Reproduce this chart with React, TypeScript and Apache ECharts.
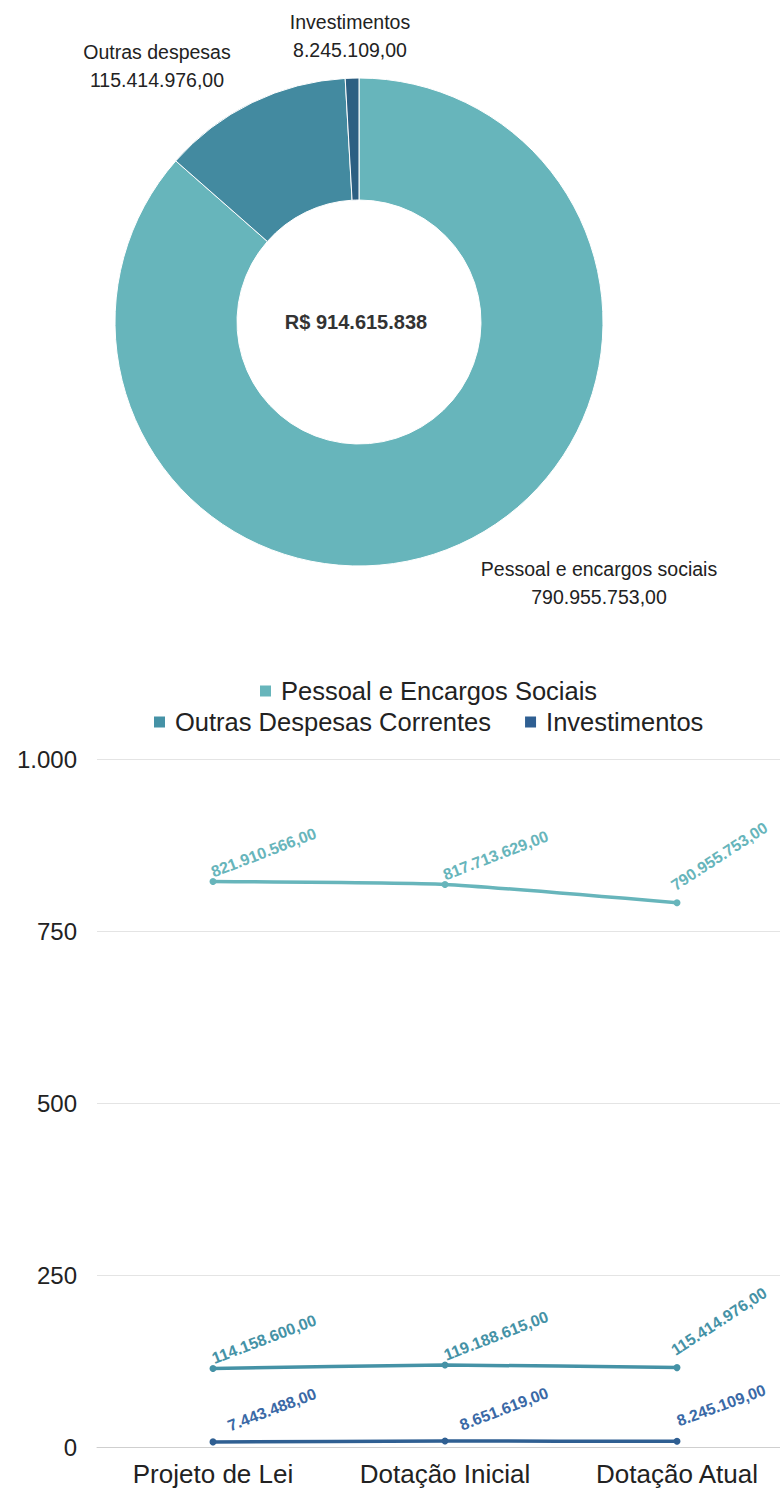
import React, { useEffect, useRef } from "react";
import * as echarts from "echarts";

const categories = ["Projeto de Lei", "Dotação Inicial", "Dotação Atual"];
const seriesNames = ["Pessoal e Encargos Sociais", "Outras Despesas Correntes", "Investimentos"];
const pessoal = [821910566, 817713629, 790955753];
const outras = [114158600, 119188615, 115414976];
const investimentos = [7443488, 8651619, 8245109];

const pieNames = ["Pessoal e encargos sociais", "Outras despesas", "Investimentos"];
const pieValues = [790955753, 115414976, 8245109];

const yMin = 0;
const yMax = 1000000000;
const yInterval = 250000000;

const pieColors = ["#67b5bb", "#438aa0", "#2c5f82"];
const lineColors = ["#67b5bb", "#4592a6", "#2f5f92"];
const labelColors = ["#67b5bb", "#4592a6", "#3a69a6"];
// label anchor positions for pie labels (layout only)
const pieLabelPos = [
  [599, 583],
  [157, 66],
  [350, 36],
];

const FONT = "'Liberation Sans', Arial, sans-serif";

function fmtBR(v: number, decimals: number): string {
  const fixed = v.toFixed(decimals);
  const parts = fixed.split(".");
  const intF = parts[0].replace(/\B(?=(\d{3})+(?!\d))/g, ".");
  return parts[1] ? intF + "," + parts[1] : intF;
}

function buildLineData(values: number[]) {
  return values.map((v, i) => {
    const txt = fmtBR(v, 2);
    const last = i === values.length - 1;
    if (last) {
      const long = txt.length > 12;
      return {
        value: v,
        label: {
          position: long ? [3.5, -6] : [6.5, -9],
          align: "left",
          verticalAlign: "bottom",
          rotate: long ? 33 : 20,
        },
      };
    }
    return { value: v };
  });
}

export default function App() {
  const ref = useRef<HTMLDivElement>(null);

  useEffect(() => {
    if (!ref.current) return;
    const chart = echarts.init(ref.current, undefined, { renderer: "svg" });
    const total = pieValues.reduce((a, b) => a + b, 0);
    const allSeries = [pessoal, outras, investimentos];

    const legendText = { fontSize: 25.5, color: "#222", fontFamily: FONT, padding: [0, 0, 0, 5] };

    const option: any = {
      animation: false,
      textStyle: { fontFamily: FONT },
      legend: [
        {
          data: [seriesNames[0]],
          left: 255,
          top: 673,
          icon: "rect",
          itemWidth: 11,
          itemHeight: 11,
          textStyle: legendText,
        },
        {
          data: [seriesNames[1], seriesNames[2]],
          left: 149,
          top: 704,
          icon: "rect",
          itemWidth: 11,
          itemHeight: 11,
          itemGap: 34,
          textStyle: legendText,
        },
      ],
      graphic: [
        {
          type: "text",
          x: 356,
          y: 322,
          style: {
            text: "R$ " + fmtBR(total, 0),
            fontSize: 20,
            fontWeight: "bold",
            fill: "#333",
            fontFamily: FONT,
            align: "center",
            verticalAlign: "middle",
          },
        },
      ],
      grid: { left: 97, right: 7, top: 759, bottom: 43 },
      xAxis: {
        type: "category",
        data: categories,
        boundaryGap: true,
        axisLine: { show: true, lineStyle: { color: "#cfcfcf", width: 1 } },
        axisTick: { show: false },
        axisLabel: { fontSize: 26, color: "#222", margin: 14, fontFamily: FONT },
        splitLine: { show: false },
      },
      yAxis: {
        type: "value",
        min: yMin,
        max: yMax,
        interval: yInterval,
        axisLine: { show: false },
        axisTick: { show: false },
        axisLabel: {
          fontSize: 24,
          color: "#222",
          margin: 20,
          fontFamily: FONT,
          formatter: (v: number) => fmtBR(v / 1000000, 0),
        },
        splitLine: { show: true, lineStyle: { color: "#e4e4e4", width: 1 } },
      },
      series: [
        {
          type: "pie",
          name: "Dotação Atual",
          center: [359, 322],
          radius: [122, 244],
          startAngle: 90,
          clockwise: true,
          avoidLabelOverlap: false,
          itemStyle: { borderColor: "#fff", borderWidth: 1 },
          label: {
            show: true,
            position: "outside",
            formatter: (p: any) => p.name + "\n" + fmtBR(p.value, 2),
            fontSize: 19.5,
            lineHeight: 28,
            color: "#222",
            fontFamily: FONT,
            align: "center",
          },
          labelLine: { show: false },
          labelLayout: (p: any) => ({
            x: pieLabelPos[p.dataIndex][0],
            y: pieLabelPos[p.dataIndex][1],
            align: "center",
            verticalAlign: "middle",
          }),
          emphasis: { disabled: true },
          data: pieNames.map((n, i) => ({
            name: n,
            value: pieValues[i],
            itemStyle: { color: pieColors[i] },
          })),
        },
        ...allSeries.map((vals, si) => ({
          type: "line",
          name: seriesNames[si],
          data: buildLineData(vals),
          smooth: 0.15,
          symbol: "circle",
          symbolSize: 7,
          color: lineColors[si],
          lineStyle: { width: 3.5, color: lineColors[si] },
          itemStyle: { color: lineColors[si] },
          label: {
            show: true,
            position: [109, -38],
            align: "right",
            verticalAlign: "bottom",
            rotate: 21,
            fontSize: 16,
            fontWeight: "bold",
            color: labelColors[si],
            fontFamily: FONT,
            formatter: (p: any) => fmtBR(p.value, 2),
          },
          emphasis: { disabled: true },
        })),
      ],
    };
    chart.setOption(option);
    return () => chart.dispose();
  }, []);

  return (
    <div
      style={{
        position: "absolute",
        left: 0,
        top: 0,
        width: 780,
        height: 1490,
        overflow: "hidden",
        background: "#fff",
      }}
    >
      <div ref={ref} style={{ width: 800, height: 1490 }} />
    </div>
  );
}
